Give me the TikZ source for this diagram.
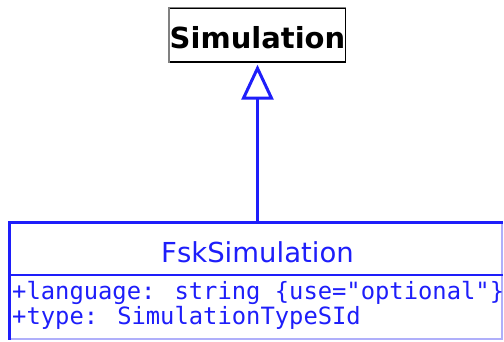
\documentclass[tikz,border=0pt]{standalone}
\usepackage{fontspec}
\usetikzlibrary{arrows.meta}
\newfontfamily\umlsans{DejaVu Sans}
\newfontfamily\umlmono{DejaVu Sans Mono}
\definecolor{umlblue}{RGB}{30,30,250}
\definecolor{umllight}{RGB}{175,175,250}
\begin{document}
\begin{tikzpicture}[x=1pt,y=-1pt,
  superbox/.style={draw=black, line width=1.4pt, fill=white, inner sep=0pt,
    minimum width=175pt, minimum height=54pt, text height=26pt, text depth=0pt,
    font=\umlsans\bfseries\fontsize{29}{29}\selectfont},
  classframe/.style={draw=umllight, line width=1.2pt, inner sep=0pt,
    minimum width=492pt, minimum height=116pt},
  classname/.style={anchor=base, inner sep=0pt, text=umlblue,
    font=\umlsans\fontsize{27.5}{27.5}\selectfont},
  attr/.style={anchor=base west, inner sep=0pt, text=umlblue,
    font=\umlmono\fontsize{23.8}{23.8}\selectfont},
  thickedge/.style={draw=umlblue, line width=2.6pt},
  inherit/.style={draw=umlblue, line width=3pt,
    -{Triangle[open, length=35pt, width=32pt, fill=white]}, shorten >=2pt}
]
\useasboundingbox (0,0) rectangle (504,341);
\fill[white] (0,0) rectangle (504,341);
\node[superbox] (sim) at (257.5,35) {Simulation};
\draw[gray, line width=1.4pt] (sim.south west) -- (sim.north west) -- (sim.north east);
\node[classframe] (fsk) at (256,281) {};
\draw[thickedge] (fsk.south west) -- (fsk.north west) -- (fsk.north east);
\draw[umlblue, line width=1.8pt] (fsk.west |- 0,275) -- (fsk.east |- 0,275);
\node[classname] (fskname) at (257.5,262) {FskSimulation};
\node[attr] (attr1) at (12,299) {+language: string \{use="optional"\}};
\node[attr] (attr2) at (12,324) {+type: SimulationTypeSId};
\draw[inherit] (sim.south |- fsk.north) -- (sim.south);
\end{tikzpicture}
\end{document}
